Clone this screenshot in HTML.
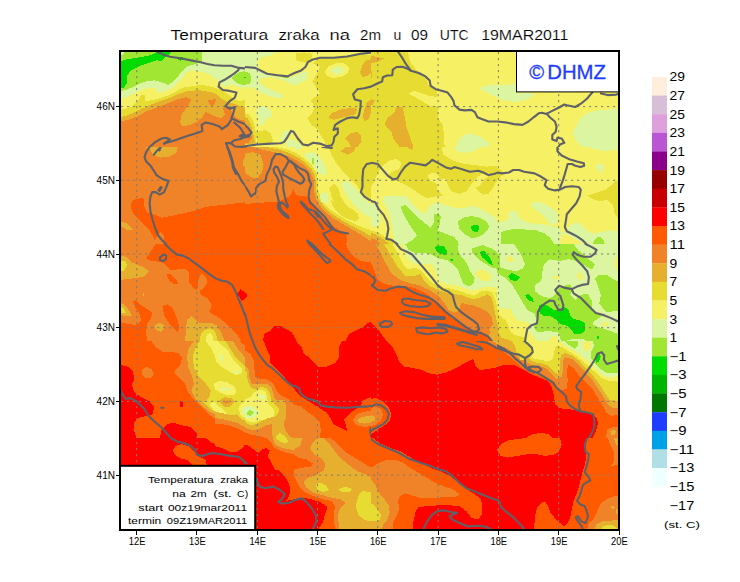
<!DOCTYPE html>
<html><head><meta charset="utf-8"><title>Temperatura zraka na 2m</title>
<style>
html,body{margin:0;padding:0;background:#fff;}
body{width:740px;height:582px;overflow:hidden;font-family:"Liberation Sans",sans-serif;}
svg{display:block;}
text{font-family:"Liberation Sans",sans-serif;fill:#000;}
.thin text,.thin{stroke:#fff;stroke-width:0.15px;}
.tk{font-size:10.1px;}
.cbl{font-size:12.3px;}
.ttl text{font-size:14.9px;}
.lg{font-size:9.9px;}
.grid line{stroke:#7d7d78;stroke-width:1;stroke-dasharray:2.2 3.8;}
.bord polyline{fill:none;stroke:#5f6068;stroke-width:2.1;stroke-linejoin:round;stroke-linecap:round;}
</style></head><body>
<svg width="740" height="582" viewBox="0 0 740 582">
<defs>
<clipPath id="c0"><rect x="119.0" y="50.0" width="126.0" height="97.0"/></clipPath>
<clipPath id="c1"><rect x="245.0" y="50.0" width="126.0" height="97.0"/></clipPath>
<clipPath id="c2"><rect x="371.0" y="50.0" width="126.0" height="97.0"/></clipPath>
<clipPath id="c3"><rect x="497.0" y="50.0" width="126.0" height="97.0"/></clipPath>
<clipPath id="c4"><rect x="119.0" y="147.0" width="126.0" height="97.0"/></clipPath>
<clipPath id="c5"><rect x="245.0" y="147.0" width="126.0" height="97.0"/></clipPath>
<clipPath id="c6"><rect x="371.0" y="147.0" width="126.0" height="97.0"/></clipPath>
<clipPath id="c7"><rect x="497.0" y="147.0" width="126.0" height="97.0"/></clipPath>
<clipPath id="c8"><rect x="119.0" y="244.0" width="126.0" height="97.0"/></clipPath>
<clipPath id="c9"><rect x="245.0" y="244.0" width="126.0" height="97.0"/></clipPath>
<clipPath id="c10"><rect x="371.0" y="244.0" width="126.0" height="97.0"/></clipPath>
<clipPath id="c11"><rect x="497.0" y="244.0" width="126.0" height="97.0"/></clipPath>
<clipPath id="c12"><rect x="119.0" y="341.0" width="126.0" height="97.0"/></clipPath>
<clipPath id="c13"><rect x="245.0" y="341.0" width="126.0" height="97.0"/></clipPath>
<clipPath id="c14"><rect x="371.0" y="341.0" width="126.0" height="97.0"/></clipPath>
<clipPath id="c15"><rect x="497.0" y="341.0" width="126.0" height="97.0"/></clipPath>
<clipPath id="c16"><rect x="119.0" y="438.0" width="126.0" height="97.0"/></clipPath>
<clipPath id="c17"><rect x="245.0" y="438.0" width="126.0" height="97.0"/></clipPath>
<clipPath id="c18"><rect x="371.0" y="438.0" width="126.0" height="97.0"/></clipPath>
<clipPath id="c19"><rect x="497.0" y="438.0" width="126.0" height="97.0"/></clipPath>
<clipPath id="c20"><rect x="119.0" y="50.0" width="80.0" height="60.0"/></clipPath>
<clipPath id="c21"><rect x="450.0" y="195.0" width="185.0" height="145.0"/></clipPath>
<clipPath id="c22"><rect x="215.0" y="400.0" width="80.0" height="70.0"/></clipPath>
<clipPath id="c23"><rect x="460.0" y="280.0" width="100.0" height="80.0"/></clipPath>
<clipPath id="c24"><rect x="215.0" y="50.0" width="126.0" height="97.0"/></clipPath>
<clipPath id="c25"><rect x="180.0" y="95.0" width="100.0" height="80.0"/></clipPath>
<clipPath id="c26"><rect x="290.0" y="200.0" width="100.0" height="80.0"/></clipPath>
<clipPath id="c27"><rect x="371.0" y="147.0" width="126.0" height="97.0"/></clipPath>
<clipPath id="c28"><rect x="255.0" y="150.0" width="100.0" height="80.0"/></clipPath>
</defs>
<rect x="0" y="0" width="740" height="582" fill="#fff"/>
<clipPath id="fr"><rect x="120" y="51" width="499" height="479"/></clipPath>
<g shape-rendering="crispEdges" clip-path="url(#fr)">
<g clip-path="url(#c0)">
<rect x="119.0" y="50.0" width="126.0" height="97.0" fill="#f08228"/>
<polygon points="119.0,121.9 129.2,119.5 137.7,116.1 146.2,111.6 156.5,107.6 168.4,103.1 178.6,99.0 186.3,97.3 191.4,99.4 187.4,107.0 181.7,114.4 180.0,122.4 182.7,126.6 189.7,124.9 196.5,121.9 201.6,117.8 205.8,112.1 213.5,115.6 221.2,118.4 224.9,114.4 223.2,108.7 226.3,105.3 230.5,107.9 233.1,114.7 238.2,119.0 245.0,120.7 245.0,50.0 119.0,50.0" fill="#e6af2d"/>
<polygon points="207.5,100.2 216.4,99.0 214.4,104.5 211.3,106.5" fill="#f08228"/>
<polygon points="119.0,117.3 126.7,115.6 134.3,112.3 142.0,108.7 150.5,104.8 159.9,101.1 170.1,97.7 178.6,93.9 187.1,91.2 199.0,90.2 209.2,91.9 216.9,93.9 221.2,98.5 228.0,101.9 236.5,104.8 245.0,107.0 245.0,50.0 119.0,50.0" fill="#e6dc32"/>
<polygon points="119.0,109.6 125.8,108.7 132.6,106.2 137.7,101.1 141.1,94.6 144.5,94.6 145.4,101.1 153.1,100.2 161.6,97.7 170.1,94.6 176.9,90.9 182.0,87.8 190.5,86.6 200.7,84.9 209.2,86.1 216.1,88.3 221.2,90.0 228.0,94.3 234.8,99.4 239.9,101.1 245.0,99.4 245.0,50.0 119.0,50.0" fill="#f5f064"/>
<polygon points="119.0,99.4 125.8,97.3 134.3,93.4 141.1,90.0 147.9,88.3 155.6,88.3 157.3,92.6 165.0,91.7 171.8,88.3 177.7,83.2 182.9,78.1 186.3,72.1 192.2,70.4 200.7,71.8 209.2,73.8 214.4,78.1 218.6,82.4 224.6,86.6 231.4,84.9 238.2,86.6 245.0,89.2 245.0,50.0 119.0,50.0" fill="#dcf5a0"/>
<polygon points="119.0,91.7 126.7,89.5 134.3,86.6 141.1,83.2 147.9,81.0 154.8,80.3 161.6,82.4 168.4,84.9 173.5,81.5 178.6,75.5 182.9,70.4 187.1,66.2 193.9,64.5 201.6,62.3 202.4,52.0 202.4,50.0 119.0,50.0" fill="#a0e632"/>
<polygon points="245.0,72.1 241.9,73.8 241.3,78.1 243.3,81.5 245.0,82.0" fill="#a0e632"/>
<polygon points="119.0,88.3 124.1,87.8 126.7,83.2 127.5,75.5 130.9,70.4 137.7,67.0 146.2,63.6 154.8,61.1 161.6,57.7 165.0,55.1 159.9,52.0 159.9,50.0 119.0,50.0" fill="#00dc00"/>
<polygon points="176.0,56.5 184.6,57.7 182.3,60.6 178.6,59.9" fill="#00dc00"/>
</g>
<g clip-path="url(#c1)">
<rect x="245.0" y="50.0" width="126.0" height="97.0" fill="#f5f064"/>
<polygon points="318.2,58.5 313.1,63.6 319.9,67.0 318.2,72.1 312.3,81.5 316.5,87.5 319.9,93.4 313.1,98.5 310.6,101.1 314.8,106.2 312.3,113.0 307.1,118.1 311.4,124.9 318.2,130.0 320.8,135.1 325.0,141.9 325.0,147.1 371.0,147.1 371.0,55.1 362.5,54.3 347.2,56.8 330.1,57.7" fill="#e6dc32"/>
<polygon points="296.1,53.4 303.7,52.4 311.4,53.4 313.1,60.2 310.6,62.8 306.3,62.8 301.2,61.9 296.1,60.2" fill="#e6dc32"/>
<polygon points="325.0,72.1 328.4,66.2 336.9,62.8 345.5,63.6 349.7,67.9 347.2,73.8 340.4,77.2 331.8,78.1 326.7,75.5" fill="#f5f064"/>
<polygon points="331.0,70.4 335.2,67.0 341.2,67.0 343.8,70.4 340.4,73.8 334.4,74.2" fill="#dcf5a0"/>
<polygon points="371.0,59.4 365.9,60.2 362.5,65.3 359.9,72.1 362.5,77.2 367.6,75.5 371.0,72.1" fill="#e6af2d"/>
<polygon points="328.4,118.1 331.8,113.0 340.4,109.6 350.6,107.9 357.4,108.7 355.7,113.9 347.2,116.4 340.4,118.1 333.5,119.8" fill="#e6af2d"/>
<polygon points="371.0,99.4 366.7,102.8 364.2,109.6 362.5,118.1 365.0,121.5 369.3,118.1 371.0,113.0" fill="#e6af2d"/>
<polygon points="345.5,138.5 350.6,133.4 356.5,131.7 360.8,135.1 361.6,141.9 357.4,147.1 351.4,147.1 348.9,142.8" fill="#e6af2d"/>
<polygon points="245.0,52.0 276.5,52.0 268.8,56.0 260.3,57.7 256.9,61.9 257.8,67.9 245.0,67.0" fill="#dcf5a0"/>
<polygon points="245.0,67.0 255.2,68.7 265.4,73.8 273.9,76.4 284.2,78.1 291.0,77.2 296.1,75.5 304.6,71.3 307.7,73.0 306.3,79.8 301.2,82.4 294.4,85.8 287.6,82.4 279.1,78.9 270.5,77.2 262.0,78.1 258.6,80.6 263.7,85.8 272.2,90.0 281.6,94.3 282.8,96.8 278.2,98.5 268.8,96.0 260.3,92.6 253.5,88.3 245.0,86.6" fill="#dcf5a0"/>
<polygon points="245.0,72.1 248.7,73.0 251.0,76.9 249.8,81.5 245.0,82.4" fill="#a0e632"/>
<polygon points="246.4,75.5 247.7,75.5 247.7,77.2 246.4,77.2" fill="#00dc00"/>
<polygon points="281.6,75.9 290.1,76.9 288.4,78.6 283.3,77.6" fill="#a0e632"/>
<polygon points="256.9,107.0 263.7,106.2 270.5,109.6 272.2,114.7 269.7,118.1 265.4,119.0 263.7,124.9 259.5,124.9 258.6,118.1 256.9,113.0" fill="#dcf5a0"/>
<polygon points="280.8,137.7 284.2,130.9 289.6,129.7 287.6,136.0 284.5,141.1 281.6,141.9" fill="#dcf5a0"/>
<polygon points="285.9,142.8 289.6,138.5 294.4,140.2 301.2,145.4 302.9,147.1 285.9,147.1" fill="#dcf5a0"/>
<polygon points="256.1,131.7 265.4,130.0 270.5,133.4 273.1,140.2 270.5,142.8 256.9,143.6" fill="#e6dc32"/>
<polygon points="245.0,113.0 249.3,114.7 253.5,121.5 255.6,131.7 256.6,143.6 245.0,145.4" fill="#e6dc32"/>
<polygon points="245.0,117.3 247.6,118.1 251.5,126.6 253.5,135.1 255.2,143.3 245.0,144.5" fill="#e6af2d"/>
<polygon points="245.0,124.9 248.4,126.6 251.0,131.7 251.8,138.5 248.4,142.8 245.0,142.8" fill="#f08228"/>
</g>
<g clip-path="url(#c2)">
<rect x="371.0" y="50.0" width="126.0" height="97.0" fill="#f5f064"/>
<polygon points="371.0,50.0 407.6,50.0 407.6,52.0 411.0,63.6 417.0,70.4 425.5,77.2 428.9,85.8 436.6,90.9 437.4,106.2 438.3,118.1 442.5,124.9 444.2,135.1 443.4,142.8 445.9,147.1 371.0,147.1" fill="#e6dc32"/>
<polygon points="408.5,93.4 414.4,90.9 422.1,93.4 429.7,96.0 437.1,96.8 437.1,106.2 430.6,106.2 422.1,101.1 414.4,96.8" fill="#f5f064"/>
<polygon points="371.0,56.0 377.8,56.8 383.8,58.5 377.8,61.9 371.0,63.6" fill="#e6af2d"/>
<polygon points="371.0,70.4 372.4,72.1 372.4,77.2 371.0,78.1" fill="#e6af2d"/>
<polygon points="371.0,99.4 375.3,100.2 372.7,104.5 371.0,105.3" fill="#e6af2d"/>
<polygon points="384.6,123.2 388.0,117.3 394.0,113.0 396.5,107.0 402.5,107.0 405.1,118.1 406.8,128.3 410.2,138.5 413.6,147.1 399.9,147.1 393.1,138.5 391.4,131.7 386.3,126.6" fill="#e6af2d"/>
<polygon points="479.1,88.3 488.5,84.9 497.0,84.9 497.0,97.7 490.2,94.3 483.4,90.9" fill="#dcf5a0"/>
<polygon points="456.1,147.1 458.7,140.2 462.9,135.1 469.8,133.4 480.0,136.8 489.3,142.8 487.6,147.1" fill="#dcf5a0"/>
</g>
<g clip-path="url(#c3)">
<rect x="497.0" y="50.0" width="126.0" height="97.0" fill="#f5f064"/>
<polygon points="497.0,84.9 507.2,84.9 515.7,83.2 516.6,92.6 531.1,92.6 534.5,95.1 527.6,99.4 517.4,101.9 507.2,101.1 497.0,97.7" fill="#dcf5a0"/>
<polygon points="572.8,131.7 577.0,124.9 580.4,118.1 587.2,113.0 597.5,110.4 607.7,109.6 618.2,108.7 623.0,108.7 623.0,147.1 582.1,147.1 577.0,141.9 573.6,136.8" fill="#dcf5a0"/>
</g>
<g clip-path="url(#c4)">
<rect x="119.0" y="147.0" width="126.0" height="97.0" fill="#f08228"/>
<polygon points="144.5,147.0 149.6,149.0 153.1,154.7 159.9,157.6 170.1,156.4 176.9,152.1 177.7,147.0" fill="#e6af2d"/>
<polygon points="245.0,202.3 236.5,203.2 224.6,204.9 214.4,205.7 204.1,207.4 193.9,210.9 183.7,213.4 175.2,215.1 166.7,216.8 161.6,217.7 155.6,214.8 147.1,212.6 144.2,206.6 144.5,200.1 142.0,198.1 136.0,198.9 131.8,201.5 130.6,206.6 132.6,212.6 137.7,218.5 144.5,224.5 149.6,230.4 153.1,236.4 154.8,240.3 157.3,235.5 160.7,232.1 163.6,235.5 165.0,244.1 245.0,244.1" fill="#ff5a00"/>
<polygon points="121.0,221.9 125.8,222.8 130.9,227.0 133.5,230.4 127.5,230.4 122.4,227.0 121.0,225.3" fill="#e6af2d"/>
<polygon points="245.0,157.2 243.0,160.6 243.3,165.7 245.0,166.6" fill="#e6af2d"/>
</g>
<g clip-path="url(#c5)">
<rect x="245.0" y="147.0" width="126.0" height="97.0" fill="#f08228"/>
<polygon points="245.0,204.0 255.2,203.2 267.1,202.3 279.1,201.5 289.3,196.4 291.8,193.0 293.5,188.7 295.2,193.8 299.5,196.4 306.3,196.4 310.6,199.8 313.1,205.7 318.2,212.6 324.2,218.5 330.1,223.6 336.9,228.7 345.5,233.8 347.2,239.8 346.3,244.1 245.0,244.1" fill="#ff5a00"/>
<polygon points="245.0,153.8 252.7,152.1 260.3,154.7 263.7,164.0 262.0,172.5 256.9,178.5 250.1,176.8 245.0,172.5" fill="#e6af2d"/>
<polygon points="253.5,147.0 263.7,150.1 273.9,152.1 284.2,154.7 292.7,158.1 301.2,163.2 308.0,169.1 312.3,175.9 314.0,183.6 314.0,191.3 315.7,198.1 319.9,205.7 325.9,212.6 333.5,218.5 342.1,223.6 352.3,229.6 362.5,235.5 371.0,241.5 371.0,147.0" fill="#e6af2d"/>
<polygon points="267.1,147.0 279.1,149.6 289.3,153.0 297.8,157.2 305.4,162.7 311.4,169.1 314.8,175.9 316.2,183.6 316.2,191.3 318.2,198.1 322.5,204.9 328.4,211.4 336.1,216.8 344.6,221.9 354.8,227.4 364.2,232.1 371.0,236.4 371.0,147.0" fill="#e6dc32"/>
<polygon points="275.6,147.0 287.6,149.6 296.1,153.0 304.6,158.9 311.4,164.9 316.5,172.5 318.2,181.1 318.2,190.4 320.8,198.1 325.0,204.9 331.0,210.0 338.6,215.1 347.2,220.2 357.4,225.3 371.0,230.4 371.0,147.0" fill="#f5f064"/>
<polygon points="328.4,147.0 331.8,155.5 336.9,164.0 343.8,172.5 350.6,179.4 357.4,186.2 364.2,194.7 371.0,199.8 371.0,147.0" fill="#e6dc32"/>
<polygon points="340.4,151.3 345.5,147.0 355.7,147.0 354.0,151.3 347.2,154.7" fill="#e6af2d"/>
<polygon points="341.2,183.6 347.2,181.1 354.0,187.0 360.8,195.5 367.6,202.3 371.0,204.0 371.0,217.7 364.2,214.3 355.7,206.6 348.9,198.1 343.8,191.3" fill="#dcf5a0"/>
<polygon points="329.3,187.9 333.5,183.6 338.3,187.9 340.7,196.4 345.8,204.9 354.0,211.7 359.4,218.5 354.8,221.9 345.8,215.4 337.3,206.9 332.2,198.1" fill="#e6dc32"/>
<polygon points="303.7,153.8 313.1,152.1 319.9,157.2 325.0,165.7 326.7,174.2 321.6,175.1 316.5,170.8 312.3,164.0 306.3,158.1" fill="#dcf5a0"/>
<polygon points="312.1,158.1 314.1,158.1 313.8,164.0 312.4,164.0" fill="#a0e632"/>
<polygon points="319.9,196.4 322.5,192.1 326.7,193.0 328.4,198.1 326.7,203.2 321.6,202.3" fill="#dcf5a0"/>
<polygon points="294.4,147.0 301.2,147.0 300.3,149.6 295.2,149.0" fill="#dcf5a0"/>
</g>
<g clip-path="url(#c6)">
<rect x="371.0" y="147.0" width="126.0" height="97.0" fill="#f5f064"/>
<polygon points="371.0,147.0 441.7,147.0 443.4,154.7 451.0,159.8 461.2,163.2 473.2,164.9 486.8,166.6 497.0,165.7 497.0,175.1 493.6,175.9 488.5,173.4 481.7,174.2 476.6,177.6 471.5,184.5 466.4,191.3 459.5,193.8 451.0,191.3 447.6,184.5 446.8,179.4 439.1,179.4 438.3,174.2 432.3,172.5 427.2,175.9 430.6,181.1 436.6,183.6 437.4,189.6 443.4,195.5 435.7,196.4 427.2,198.1 420.4,194.7 413.6,189.6 405.1,184.5 396.5,181.1 391.4,180.2 387.2,175.9 392.3,171.7 399.1,169.1 401.6,163.2 396.5,158.9 389.7,160.6 382.9,165.7 377.8,172.5 374.4,181.1 371.0,187.0" fill="#e6dc32"/>
<polygon points="474.9,187.9 480.0,185.3 484.2,179.4 490.2,175.1 497.0,174.2 497.0,181.1 492.7,187.9 488.5,193.8 483.4,194.7 478.3,191.3" fill="#e6dc32"/>
<polygon points="407.6,147.0 413.6,147.0 411.9,150.4" fill="#e6af2d"/>
<polygon points="382.1,200.6 384.6,196.4 393.1,195.5 405.1,195.5 411.9,203.2 418.7,210.0 425.5,214.3 429.7,205.7 436.6,202.3 444.2,204.9 452.7,207.4 462.9,208.3 473.2,205.7 481.7,209.1 490.2,214.3 497.0,218.5 497.0,244.1 397.4,244.1 394.0,238.9 392.3,228.7 390.6,218.5 388.0,210.0 384.6,204.0" fill="#dcf5a0"/>
<polygon points="371.0,202.3 375.3,204.9 378.7,211.7 381.2,220.2 377.8,227.0 371.0,225.3" fill="#dcf5a0"/>
<polygon points="400.8,206.6 405.1,204.9 410.2,210.0 417.0,216.8 425.5,223.6 430.6,227.9 434.0,221.9 434.3,214.3 438.3,213.1 440.8,216.8 440.0,223.6 437.4,230.4 445.9,233.8 454.4,237.2 457.8,241.5 457.8,244.1 405.9,244.1 412.7,239.8 417.0,235.5 411.9,228.7 406.8,220.2 402.5,211.7" fill="#a0e632"/>
<polygon points="457.8,221.9 462.9,217.7 471.5,216.0 480.0,217.7 486.8,221.9 489.3,227.0 485.1,233.0 478.3,237.2 471.5,238.1 463.8,233.8 459.5,228.7" fill="#a0e632"/>
<polygon points="470.6,227.0 474.0,224.5 478.3,224.5 479.1,228.7 477.4,231.8 472.3,231.3" fill="#00dc00"/>
<polygon points="371.0,230.4 377.8,232.1 385.5,237.2 393.1,242.4 394.8,244.1 371.0,244.1" fill="#e6dc32"/>
<polygon points="371.0,233.0 376.1,234.7 382.9,238.9 389.7,244.1 371.0,244.1" fill="#e6af2d"/>
<polygon points="371.0,238.1 376.1,239.8 381.2,244.1 371.0,244.1" fill="#f08228"/>
</g>
<g clip-path="url(#c7)">
<rect x="497.0" y="147.0" width="126.0" height="97.0" fill="#f5f064"/>
<polygon points="587.2,195.5 595.8,193.0 606.0,189.6 612.8,183.6 618.2,179.4 623.0,179.4 623.0,218.5 618.2,218.5 614.5,213.4 612.8,204.9 607.7,199.8 599.2,201.5 592.4,198.9" fill="#e6dc32"/>
<polygon points="497.0,168.3 501.3,170.0 503.8,174.2 498.7,178.5 497.0,178.5" fill="#e6dc32"/>
<polygon points="588.1,147.0 623.0,147.0 623.0,149.6 612.8,150.4 602.6,150.7 594.1,149.0" fill="#dcf5a0"/>
<polygon points="595.8,164.9 601.7,164.0 603.9,166.6 602.6,171.7 599.2,171.7 596.6,168.3" fill="#dcf5a0"/>
<polygon points="530.2,204.9 533.6,201.5 539.6,201.8 548.1,205.7 555.7,210.9 558.6,216.8 557.4,222.8 553.2,225.3 548.1,221.9 543.0,215.1 536.2,210.0" fill="#dcf5a0"/>
<polygon points="497.0,223.6 502.1,221.9 508.9,218.5 508.1,213.4 512.3,210.3 517.4,212.6 519.1,217.7 525.1,221.9 534.5,223.6 544.7,224.5 553.2,226.2 560.0,228.7 562.6,233.8 568.5,227.0 573.6,222.8 580.4,223.6 587.2,230.4 594.1,233.8 600.9,232.1 609.4,230.4 623.0,231.3 623.0,244.1 497.0,244.1" fill="#dcf5a0"/>
<polygon points="560.9,235.5 565.1,233.8 571.9,237.2 578.7,240.6 583.8,244.1 560.0,244.1" fill="#f5f064"/>
<polygon points="501.3,232.1 507.2,230.1 515.7,228.7 525.9,229.6 536.2,230.4 543.8,233.0 549.8,237.2 553.2,242.4 554.0,244.1 501.3,244.1" fill="#a0e632"/>
<polygon points="592.4,244.1 594.9,238.9 599.2,236.4 603.4,239.8 605.1,244.1" fill="#a0e632"/>
</g>
<g clip-path="url(#c8)">
<rect x="119.0" y="244.0" width="126.0" height="97.0" fill="#ff5a00"/>
<polygon points="119.0,244.0 155.6,244.0 146.2,258.5 150.5,261.0 161.6,261.9 166.7,266.1 170.1,269.5 176.9,269.5 184.6,268.7 188.8,272.1 189.2,282.3 193.9,288.3 197.3,290.0 198.7,278.1 201.6,272.9 205.8,277.2 207.5,282.3 203.6,287.9 199.9,290.8 200.7,295.1 207.5,298.5 211.8,305.3 209.2,312.1 216.9,316.4 224.6,322.3 231.4,328.3 237.3,335.1 241.6,341.1 119.0,341.1" fill="#f08228"/>
<polygon points="166.7,274.6 170.1,273.8 175.2,278.1 178.6,284.0 173.5,284.0 169.2,280.6" fill="#ff5a00"/>
<polygon points="162.4,306.1 167.5,304.4 171.8,307.0 175.2,313.8 177.7,320.6 179.4,327.4 177.7,332.5 173.5,328.3 168.4,322.3 164.1,315.5" fill="#ff5a00"/>
<polygon points="132.6,301.0 136.0,300.2 140.3,304.4 146.2,308.7 152.2,312.1 151.4,317.2 147.1,324.0 146.2,332.5 147.1,341.1 119.0,341.1 119.0,321.5 127.5,324.0 136.0,324.9 141.1,320.6 139.4,313.8 135.2,307.0" fill="#ff5a00"/>
<polygon points="119.0,255.1 125.8,256.8 132.6,262.7 142.8,267.0 149.6,271.2 144.5,276.4 136.0,278.1 127.5,278.9 119.0,280.6" fill="#e6af2d"/>
<polygon points="119.0,260.2 125.0,261.0 127.2,265.3 124.1,270.4 119.0,272.1" fill="#e6dc32"/>
<polygon points="119.0,301.0 125.8,306.1 130.1,312.1 131.8,315.5 127.5,316.4 119.0,314.7" fill="#e6af2d"/>
<polygon points="119.0,305.3 124.1,308.7 125.8,313.0 119.0,313.0" fill="#e6dc32"/>
<polygon points="154.8,324.9 159.9,322.7 163.6,324.9 164.1,329.1 160.7,331.7 155.6,330.0" fill="#e6af2d"/>
<polygon points="142.5,293.4 144.2,292.5 144.5,295.9 142.8,296.8" fill="#e6af2d"/>
<polygon points="185.4,341.1 185.7,329.1 187.1,319.8 191.4,316.4 195.6,320.6 200.7,323.2 210.9,322.7 216.9,325.7 221.2,332.5 224.6,341.1" fill="#e6af2d"/>
<polygon points="199.9,341.1 200.7,334.2 204.1,330.0 209.2,328.3 214.4,330.8 216.9,336.8 217.8,341.1" fill="#e6dc32"/>
<polygon points="205.8,341.1 206.7,335.1 210.1,332.5 212.6,335.9 213.0,341.1" fill="#f5f064"/>
<polygon points="237.3,293.4 240.7,289.1 245.0,292.5 245.0,298.5 241.6,301.0" fill="#ff0000"/>
</g>
<g clip-path="url(#c9)">
<rect x="245.0" y="244.0" width="126.0" height="97.0" fill="#ff5a00"/>
<polygon points="346.3,244.0 348.0,249.1 352.3,255.1 359.1,260.2 367.6,262.4 371.0,262.4 371.0,244.0" fill="#f08228"/>
<polygon points="262.9,341.1 264.6,333.4 270.5,330.8 273.1,326.6 279.1,325.4 285.0,328.3 291.8,332.5 295.2,337.6 296.1,341.1" fill="#ff0000"/>
<polygon points="345.5,341.1 348.9,334.2 355.7,330.8 362.5,327.4 367.6,323.2 371.0,321.5 371.0,341.1" fill="#ff0000"/>
<polygon points="245.0,292.5 247.6,295.1 245.0,298.5" fill="#ff0000"/>
</g>
<g clip-path="url(#c10)">
<rect x="371.0" y="244.0" width="126.0" height="97.0" fill="#ff5a00"/>
<polygon points="371.0,262.7 374.4,271.2 377.8,279.8 384.6,284.0 393.1,285.7 405.1,285.7 415.3,288.3 425.5,293.4 434.0,299.3 442.5,307.0 447.6,313.8 452.7,318.9 459.5,322.3 466.4,327.4 473.2,332.5 480.0,330.8 486.8,334.2 491.9,341.1 497.0,341.1 497.0,244.0 371.0,244.0" fill="#f08228"/>
<polygon points="375.3,244.0 380.4,252.5 385.5,262.7 390.6,272.1 398.2,278.9 408.5,282.8 420.4,285.7 429.7,290.0 438.3,295.9 444.2,302.7 448.5,309.6 454.4,313.0 459.5,309.6 460.9,303.6 466.4,301.9 476.6,304.4 486.8,307.0 493.6,309.6 497.0,312.1 497.0,244.0" fill="#e6af2d"/>
<polygon points="488.5,334.2 497.0,329.1 497.0,341.1 490.2,341.1" fill="#e6af2d"/>
<polygon points="383.8,244.0 388.0,250.8 393.1,259.3 398.2,267.8 405.1,275.5 413.6,276.4 420.4,273.8 423.8,280.6 430.6,286.6 439.1,290.0 445.9,292.5 452.7,293.4 459.5,295.1 466.4,296.8 476.6,295.1 486.8,293.4 493.6,296.8 497.0,300.2 497.0,244.0" fill="#e6dc32"/>
<polygon points="392.3,244.0 396.5,250.8 399.9,257.6 403.4,264.4 407.6,269.5 415.3,267.8 422.1,271.2 427.2,278.1 434.0,284.0 442.5,287.4 451.0,288.6 459.5,290.8 466.4,293.4 473.2,293.4 480.0,291.7 488.5,290.0 497.0,293.4 497.0,244.0" fill="#f5f064"/>
<polygon points="402.5,244.0 405.1,250.8 407.6,258.5 411.9,262.7 420.4,264.4 428.9,263.6 434.0,266.1 436.6,273.8 439.1,280.6 445.9,284.0 454.4,284.9 462.9,287.4 469.8,290.3 476.6,290.0 483.4,287.4 490.2,286.6 497.0,287.4 497.0,244.0" fill="#dcf5a0"/>
<polygon points="474.9,272.9 480.0,269.5 486.8,271.2 491.9,276.4 488.5,281.5 481.7,280.6 477.4,277.2" fill="#f5f064"/>
<polygon points="405.1,244.0 408.5,250.0 415.3,253.4 422.1,252.5 430.6,254.2 439.1,258.5 447.6,260.2 452.7,264.4 457.8,269.5 460.4,276.4 462.9,283.2 468.9,286.6 473.2,284.0 474.9,278.1 470.6,272.1 468.1,266.1 464.6,260.2 459.5,254.2 457.8,248.3 458.7,244.0" fill="#a0e632"/>
<polygon points="471.5,251.7 474.9,248.3 481.7,247.4 488.5,250.8 493.6,257.6 495.3,264.4 494.4,268.7 489.3,266.1 483.4,262.7 476.6,257.6" fill="#a0e632"/>
<polygon points="434.9,247.4 438.3,245.4 444.2,246.6 447.6,251.7 445.9,255.1 440.8,254.2 436.6,251.7" fill="#00dc00"/>
<polygon points="479.1,253.4 481.7,250.0 486.8,251.7 491.0,257.6 492.7,264.4 490.2,265.3 485.1,261.0 480.8,257.6" fill="#00dc00"/>
<polygon points="450.2,259.3 452.7,259.0 453.6,261.0 451.0,261.0" fill="#00dc00"/>
<polygon points="371.0,322.3 376.1,327.4 380.4,332.5 384.6,338.5 386.3,341.1 371.0,341.1" fill="#ff0000"/>
</g>
<g clip-path="url(#c11)">
<rect x="497.0" y="244.0" width="126.0" height="97.0" fill="#dcf5a0"/>
<polygon points="514.0,244.0 573.6,244.0 578.7,250.8 587.2,257.6 594.9,264.4 592.4,269.5 585.5,266.1 577.0,261.0 568.5,259.3 560.0,261.0 549.8,259.3 543.8,264.4 542.1,273.8 541.3,280.6 535.3,284.9 534.5,290.8 541.3,295.9 549.8,298.5 554.9,295.1 556.6,290.8 561.7,286.6 570.2,284.0 572.8,289.1 570.2,295.1 575.3,300.2 578.7,295.9 587.2,293.4 591.5,300.2 592.4,308.7 597.5,313.8 602.6,315.5 594.9,320.6 592.4,324.0 599.2,327.4 607.7,330.0 614.5,332.5 623.0,335.9 623.0,341.1 587.2,341.1 582.1,338.5 571.9,339.4 561.7,341.9 558.3,332.5 548.1,330.8 537.9,332.5 533.6,327.4 537.0,320.6 534.5,313.8 527.6,310.4 522.5,301.9 517.4,293.4 512.3,284.9 505.5,278.1 497.0,272.9 497.0,266.1 507.2,269.5 515.7,271.2 522.5,268.7 525.1,264.4 520.8,254.2" fill="#a0e632"/>
<polygon points="594.9,278.1 599.2,274.6 607.7,275.5 614.5,279.8 623.0,283.2 623.0,310.4 614.5,311.3 606.0,312.1 599.2,303.6 600.9,295.1 597.5,284.9" fill="#a0e632"/>
<polygon points="538.7,305.3 543.0,303.9 548.1,306.1 553.2,309.6 558.3,309.6 564.3,307.0 568.5,309.6 570.2,315.5 573.6,318.9 580.4,320.6 584.7,323.2 584.7,330.8 580.4,334.2 574.5,334.2 571.1,329.1 566.8,325.7 560.0,324.0 554.9,318.9 549.8,315.5 544.7,316.4 540.4,313.8 538.7,309.6" fill="#00dc00"/>
<polygon points="508.1,276.4 511.5,272.9 520.0,277.2 516.6,281.5 510.6,279.8" fill="#00dc00"/>
<polygon points="525.1,295.1 528.5,293.7 532.8,298.5 533.6,301.9 530.2,301.0 526.8,298.5" fill="#00dc00"/>
<polygon points="596.6,336.8 598.8,335.9 598.8,338.5 597.1,339.0" fill="#00dc00"/>
<polygon points="505.5,259.3 510.6,255.1 514.9,261.0 509.8,261.9" fill="#f5f064"/>
<polygon points="553.2,276.4 560.0,276.0 560.0,278.9 553.5,278.9" fill="#f5f064"/>
<polygon points="576.2,276.4 579.6,272.1 583.8,278.1 581.3,280.6" fill="#f5f064"/>
<polygon points="600.9,323.2 607.7,322.3 609.4,325.4 603.4,326.6" fill="#f5f064"/>
<polygon points="614.5,259.3 618.2,256.8 623.0,256.8 623.0,271.2 618.2,271.2 615.3,267.8" fill="#f5f064"/>
<polygon points="548.1,341.1 551.5,336.8 556.6,335.9 559.1,341.1" fill="#f5f064"/>
<polygon points="497.0,307.0 503.8,309.6 510.6,315.5 515.7,320.6 524.2,321.5 531.1,324.9 528.5,330.8 533.6,335.9 537.0,341.1 497.0,341.1" fill="#f5f064"/>
<polygon points="497.0,312.1 503.0,314.7 508.1,320.6 514.0,327.4 522.5,329.1 525.1,335.9 524.2,341.1 497.0,341.1" fill="#e6dc32"/>
<polygon points="497.0,316.4 501.3,318.9 504.7,324.9 508.9,332.5 514.0,336.8 515.7,341.1 497.0,341.1" fill="#e6af2d"/>
<polygon points="497.0,318.9 499.0,319.8 499.6,327.4 497.0,328.3" fill="#f08228"/>
</g>
<g clip-path="url(#c12)">
<rect x="119.0" y="341.0" width="126.0" height="97.0" fill="#ff5a00"/>
<polygon points="119.0,364.8 127.5,366.5 132.6,371.6 134.3,378.5 131.8,385.3 134.3,392.1 141.1,397.2 149.6,401.4 153.9,406.6 153.1,414.2 146.2,415.9 139.4,417.6 134.3,422.7 133.5,429.5 136.0,436.4 136.9,438.1 119.0,438.1" fill="#ff0000"/>
<polygon points="159.9,438.1 161.6,429.5 166.7,424.4 173.5,422.7 182.0,425.3 190.5,427.0 196.5,432.9 197.3,438.1" fill="#ff0000"/>
<polygon points="180.3,400.6 182.9,400.6 182.9,407.4 180.3,407.4" fill="#ff0000"/>
<polygon points="151.4,341.0 155.6,347.0 163.3,352.1 173.5,352.1 178.9,353.3 182.0,358.0 180.3,364.8 173.8,372.5 178.9,377.1 184.6,382.7 187.4,391.2 193.9,399.7 202.4,408.3 210.9,415.9 221.2,422.7 231.4,426.1 238.2,432.9 245.0,436.4 245.0,341.0" fill="#f08228"/>
<polygon points="142.0,369.9 146.2,366.9 151.4,369.1 153.9,373.4 151.4,377.6 145.4,378.5 142.5,375.1" fill="#f08228"/>
<polygon points="193.9,341.0 188.8,347.8 187.1,356.3 188.0,366.5 192.2,376.8 193.9,383.6 191.4,390.4 195.6,398.9 202.4,405.7 209.2,411.7 217.8,415.9 228.0,419.3 238.2,421.0 245.0,423.6 245.0,357.2 238.2,349.5 233.1,341.0" fill="#e6af2d"/>
<polygon points="199.9,341.0 194.8,349.5 192.6,358.0 194.3,368.2 199.0,376.8 205.8,383.6 210.9,390.4 209.2,397.2 204.1,402.3 209.2,408.3 217.8,413.4 228.0,416.8 238.2,418.5 245.0,420.2 245.0,366.5 241.6,363.1 234.8,356.3 229.7,347.8 225.4,341.0" fill="#e6dc32"/>
<polygon points="205.8,341.0 210.9,347.8 214.4,354.6 216.1,361.4 221.2,366.5 228.0,370.8 236.5,375.1 241.6,373.4 242.4,369.1 236.5,363.1 231.4,357.2 228.0,350.4 222.9,346.1 217.8,341.0" fill="#f5f064"/>
<polygon points="213.5,383.6 218.6,381.0 226.3,381.9 233.1,385.3 236.5,390.4 234.8,394.6 228.0,395.5 221.2,392.9 215.2,389.5" fill="#f5f064"/>
<polygon points="209.2,404.0 214.4,401.4 219.5,406.6 224.6,410.8 228.0,414.2 221.2,414.2 214.4,410.8" fill="#f5f064"/>
<polygon points="238.2,408.3 241.6,403.1 245.0,402.3 245.0,417.6 240.7,415.9" fill="#f5f064"/>
<polygon points="219.5,355.5 221.2,353.8 222.9,358.0 221.2,362.3 219.5,359.7" fill="#dcf5a0"/>
<polygon points="233.1,371.6 238.2,370.8 239.0,373.0 234.8,373.7" fill="#dcf5a0"/>
<polygon points="220.3,388.7 228.0,387.3 229.7,389.5 222.9,390.7" fill="#dcf5a0"/>
<polygon points="241.6,409.1 245.0,406.6 245.0,414.2 242.4,414.2" fill="#dcf5a0"/>
<polygon points="218.6,400.6 224.6,397.2 231.4,398.0 234.8,401.4 229.7,406.6 223.7,406.6" fill="#e6af2d"/>
<polygon points="223.7,400.9 228.0,400.3 228.8,402.6 225.4,403.7" fill="#f08228"/>
<polygon points="239.0,341.0 241.6,343.6 245.0,344.7 245.0,341.0" fill="#ff5a00"/>
</g>
<g clip-path="url(#c13)">
<rect x="245.0" y="341.0" width="126.0" height="97.0" fill="#ff5a00"/>
<polygon points="263.7,341.0 266.3,347.8 269.7,355.5 270.5,363.1 276.5,369.1 282.5,375.1 288.4,381.9 293.5,387.8 297.8,393.8 304.6,398.9 313.1,404.0 319.9,408.3 326.7,412.5 330.1,417.6 333.5,424.4 340.4,427.8 347.2,431.2 345.5,424.4 343.8,419.3 348.9,414.2 355.7,409.1 360.8,405.7 362.5,400.6 367.6,398.0 371.0,397.2 371.0,341.0 342.1,341.0 338.6,347.8 338.6,358.0 335.2,363.1 326.7,366.5 318.2,366.5 313.1,361.4 309.7,358.0 303.7,353.8 302.0,347.8 297.8,343.6 296.9,341.0" fill="#ff0000"/>
<polygon points="245.0,350.4 250.1,353.8 253.5,359.7 254.4,368.2 255.2,376.8 260.3,379.3 267.1,379.3 273.1,383.6 276.5,390.4 280.8,395.5 289.3,399.7 294.4,404.9 301.2,406.6 308.0,412.5 314.8,416.8 319.9,422.7 320.8,431.2 319.9,438.1 263.7,438.1 255.2,433.8 245.0,430.9" fill="#f08228"/>
<polygon points="353.1,419.3 357.4,414.2 364.2,411.7 371.0,410.8 371.0,426.1 364.2,427.0 357.4,425.3 354.0,422.7" fill="#f08228"/>
<polygon points="356.5,420.2 362.5,416.8 371.0,415.9 371.0,422.7 364.2,423.6 359.1,422.7" fill="#e6af2d"/>
<polygon points="245.0,365.7 248.4,369.1 249.3,376.8 251.8,383.6 258.6,384.4 266.3,383.6 270.5,386.1 273.1,392.1 274.8,398.9 279.9,403.1 285.0,409.1 285.9,417.6 283.3,424.4 279.1,429.5 273.9,431.2 265.4,429.5 256.9,427.8 250.1,429.5 245.0,429.5" fill="#e6af2d"/>
<polygon points="275.6,438.1 277.4,433.8 281.6,432.1 286.7,436.4 287.6,438.1" fill="#e6af2d"/>
<polygon points="278.2,438.1 279.9,434.6 283.3,435.5 285.0,438.1" fill="#e6dc32"/>
<polygon points="245.0,369.9 247.0,372.5 247.6,380.2 250.1,387.0 255.2,389.5 261.2,387.0 266.3,387.8 269.7,392.9 271.4,399.7 275.6,404.9 279.9,410.0 280.8,416.8 278.2,421.9 272.2,424.4 265.4,423.6 258.6,425.3 251.8,426.1 245.0,425.3" fill="#e6dc32"/>
<polygon points="245.0,399.7 250.1,397.2 254.4,392.1 260.3,389.5 265.4,391.2 267.1,397.2 268.0,403.1 272.2,407.4 274.8,412.5 273.1,417.6 267.1,419.3 260.3,420.2 253.5,422.7 247.6,421.0 245.0,419.3" fill="#f5f064"/>
<polygon points="245.0,406.6 250.1,405.7 255.2,408.3 258.6,412.5 256.1,416.8 250.1,418.5 245.0,417.6" fill="#dcf5a0"/>
<polygon points="258.6,395.5 264.6,394.6 265.4,398.9 260.3,399.7" fill="#dcf5a0"/>
<polygon points="246.7,412.5 250.1,410.0 254.4,412.5 251.0,415.9 247.6,415.1" fill="#a0e632"/>
</g>
<g clip-path="url(#c14)">
<rect x="371.0" y="341.0" width="126.0" height="97.0" fill="#ff0000"/>
<polygon points="386.3,341.0 393.1,347.8 396.5,354.6 399.1,361.4 404.2,366.5 413.6,368.2 422.1,369.9 428.9,373.4 437.4,374.7 445.9,372.5 456.1,368.2 464.6,363.1 473.2,358.9 475.7,366.5 480.0,369.9 488.5,369.1 497.0,367.4 497.0,341.0" fill="#ff5a00"/>
<polygon points="486.8,341.0 491.9,344.4 497.0,347.0 497.0,341.0" fill="#f08228"/>
<polygon points="492.7,341.0 497.0,344.1 497.0,341.0" fill="#e6af2d"/>
<polygon points="371.0,398.9 376.1,398.0 382.9,401.4 388.9,407.4 391.4,414.2 389.7,421.0 384.6,425.3 377.8,429.5 373.6,432.9 371.0,433.8" fill="#ff5a00"/>
<polygon points="371.0,408.3 376.1,406.6 381.2,409.1 382.9,414.2 381.2,420.2 376.1,424.4 371.0,426.1" fill="#f08228"/>
<polygon points="371.0,415.1 374.4,416.8 375.3,420.2 371.0,421.9" fill="#e6af2d"/>
</g>
<g clip-path="url(#c15)">
<rect x="497.0" y="341.0" width="126.0" height="97.0" fill="#ff5a00"/>
<polygon points="497.0,367.4 503.8,364.8 514.0,364.8 522.5,369.1 531.1,374.2 539.6,377.6 548.1,381.0 551.5,387.0 554.0,395.5 554.9,404.0 560.0,408.3 568.5,409.1 577.0,410.8 587.2,412.5 595.8,416.8 598.3,422.7 595.8,431.2 592.4,438.1 553.2,438.1 548.1,433.8 539.6,432.9 531.1,434.6 525.9,438.1 497.0,438.1" fill="#ff0000"/>
<polygon points="497.0,348.7 503.8,352.1 510.6,357.2 517.4,363.1 524.2,369.1 531.1,372.5 539.6,375.9 548.1,379.3 553.2,383.6 556.6,388.7 561.7,390.4 566.8,388.7 567.7,380.2 566.8,369.9 568.5,364.8 573.6,368.2 578.7,375.1 585.5,381.9 592.4,388.7 597.5,397.2 602.6,405.7 606.0,412.5 611.1,415.9 623.0,414.2 623.0,341.0 497.0,341.0" fill="#f08228"/>
<polygon points="606.0,438.1 606.8,431.2 610.2,427.8 616.2,427.0 623.0,427.8 623.0,438.1" fill="#f08228"/>
<polygon points="610.2,431.2 613.6,429.5 616.2,432.1 614.5,435.5 611.1,434.6" fill="#e6af2d"/>
<polygon points="497.0,344.4 503.8,347.0 512.3,351.2 519.1,356.3 525.9,362.3 533.6,365.7 541.3,366.5 547.2,369.1 551.5,374.2 556.6,379.3 561.7,376.8 563.4,369.9 562.6,361.4 565.1,357.2 571.9,358.9 578.7,364.8 585.5,372.5 592.4,380.2 597.5,387.8 602.6,395.5 607.7,404.0 612.8,408.3 623.0,406.6 623.0,341.0 497.0,341.0" fill="#e6af2d"/>
<polygon points="513.2,341.0 517.4,346.1 522.5,351.2 526.8,357.2 533.6,362.3 541.3,363.1 548.1,365.7 553.2,370.8 557.4,374.2 560.0,369.9 560.0,361.4 560.9,355.5 565.1,352.9 571.9,355.5 578.7,360.6 585.5,368.2 592.4,375.1 599.2,383.6 604.3,392.1 609.4,399.7 623.0,402.3 623.0,341.0" fill="#e6dc32"/>
<polygon points="525.1,341.0 531.1,346.1 533.6,352.9 531.1,358.0 539.6,359.7 548.1,361.4 553.2,358.9 554.0,351.2 555.7,346.1 561.7,347.0 568.5,351.2 575.3,355.5 582.1,360.6 588.9,366.5 595.8,372.5 602.6,378.5 609.4,381.0 623.0,381.9 623.0,341.0" fill="#f5f064"/>
<polygon points="560.0,341.0 565.1,345.3 571.9,349.5 577.0,352.1 582.1,356.3 588.9,361.4 595.8,368.2 602.6,375.1 609.4,377.6 623.0,375.1 623.0,341.0" fill="#dcf5a0"/>
<polygon points="564.3,341.0 569.4,345.3 574.5,348.7 577.9,345.3 578.4,341.0" fill="#a0e632"/>
<polygon points="582.1,344.4 584.7,341.0 589.8,341.0 591.5,346.1 588.9,351.2 584.7,351.2" fill="#f5f064"/>
<polygon points="592.4,341.0 623.0,341.0 623.0,371.6 612.8,373.4 606.0,372.5 599.2,368.2 594.1,363.1 590.6,357.2 591.5,351.2 594.1,346.1" fill="#a0e632"/>
<polygon points="595.8,355.5 599.2,353.8 600.9,356.3 599.2,361.4 596.6,363.1 595.4,359.7" fill="#00dc00"/>
</g>
<g clip-path="url(#c16)">
<rect x="119.0" y="438.0" width="126.0" height="97.0" fill="#ff0000"/>
<polygon points="172.6,449.9 176.0,445.7 182.0,444.0 188.8,446.5 193.9,451.6 199.0,456.7 205.8,460.1 206.7,464.7 192.2,464.7 187.1,460.1 180.3,458.4 175.2,455.0" fill="#ff5a00"/>
<polygon points="205.8,438.0 210.9,442.3 217.8,444.8 224.6,443.1 231.4,445.7 238.2,449.9 245.0,452.5 245.0,438.0" fill="#ff5a00"/>
<polygon points="228.0,438.0 231.4,441.4 238.2,442.3 245.0,443.1 245.0,438.0" fill="#f08228"/>
</g>
<g clip-path="url(#c17)">
<rect x="245.0" y="438.0" width="126.0" height="97.0" fill="#ff5a00"/>
<polygon points="245.0,445.7 251.8,448.2 258.6,453.3 262.0,449.9 266.3,448.2 269.7,451.6 268.8,460.1 273.9,466.9 280.8,472.1 286.7,478.9 290.1,487.4 289.3,495.9 285.9,501.0 294.4,499.3 302.9,497.6 311.4,499.3 319.9,501.9 327.6,507.0 325.0,514.6 322.5,523.1 318.2,529.1 318.2,535.1 245.0,535.1" fill="#ff0000"/>
<polygon points="267.1,438.0 273.9,443.1 282.5,448.2 291.0,451.6 297.8,457.6 306.3,459.3 313.1,463.5 310.6,466.9 301.2,467.8 294.4,469.5 294.4,477.2 297.8,484.0 302.9,490.8 313.1,495.9 323.3,499.3 331.8,501.0 335.2,506.1 333.5,514.6 334.4,523.1 335.2,535.1 371.0,535.1 371.0,467.8 364.2,463.5 355.7,458.4 347.2,453.3 340.4,446.5 335.2,441.4 330.1,438.0" fill="#f08228"/>
<polygon points="271.4,438.0 278.2,443.1 287.6,446.9 296.1,448.6 300.8,444.8 302.0,438.0" fill="#e6af2d"/>
<polygon points="276.5,438.0 280.8,441.7 285.9,443.1 288.4,439.7 287.6,438.0" fill="#e6dc32"/>
<polygon points="318.2,438.0 312.3,443.1 309.7,448.2 314.8,455.0 321.6,458.4 325.0,463.5 324.2,470.4 316.5,474.6 308.0,478.0 303.7,482.3 306.3,487.4 313.1,492.5 321.6,495.0 331.8,497.6 340.4,499.3 345.5,502.7 340.4,507.8 337.8,514.6 338.6,523.1 339.5,535.1 371.0,535.1 371.0,477.2 364.2,473.8 355.7,470.4 347.2,463.5 340.4,458.4 335.2,451.6 330.1,444.8 325.0,439.7 324.2,438.0" fill="#e6af2d"/>
<polygon points="315.7,484.8 319.9,482.6 325.9,485.7 329.3,489.9 323.3,492.1 317.4,489.9" fill="#e6dc32"/>
<polygon points="337.8,489.1 345.5,486.5 352.3,489.1 349.7,491.6 342.1,492.1" fill="#e6dc32"/>
<polygon points="355.7,506.1 358.2,495.9 362.5,490.8 371.0,492.5 371.0,521.4 364.2,519.7 358.2,514.6" fill="#e6dc32"/>
</g>
<g clip-path="url(#c18)">
<rect x="371.0" y="438.0" width="126.0" height="97.0" fill="#ff0000"/>
<polygon points="371.0,438.0 373.6,438.0 379.5,443.1 391.4,448.2 401.6,451.6 411.9,458.4 422.1,463.5 432.3,468.6 442.5,472.1 451.0,476.3 457.8,482.3 466.4,489.1 474.9,494.2 480.8,499.3 482.5,506.1 481.7,514.6 478.3,519.7 471.5,518.0 466.4,511.2 459.5,506.1 449.3,505.3 439.1,505.3 428.9,506.1 418.7,507.0 415.6,511.2 414.4,518.0 412.7,524.8 412.7,535.1 371.0,535.1" fill="#ff5a00"/>
<polygon points="371.0,467.8 377.8,463.5 386.3,460.1 394.8,459.8 403.4,462.7 410.2,467.8 418.7,472.9 427.2,478.0 435.7,483.1 444.2,486.5 452.7,489.1 459.5,494.2 456.1,496.7 447.6,496.7 439.1,497.6 430.6,498.4 422.1,498.4 413.6,495.9 405.1,493.3 399.9,495.9 398.2,501.0 399.1,509.5 396.5,516.3 393.1,523.1 392.3,535.1 371.0,535.1" fill="#f08228"/>
<polygon points="371.0,479.7 375.3,484.8 378.7,492.5 384.6,499.3 388.9,506.1 389.7,512.9 387.2,519.7 382.9,524.8 381.2,535.1 371.0,535.1" fill="#e6af2d"/>
<polygon points="371.0,503.6 374.4,505.3 378.7,511.2 381.2,515.5 379.5,519.7 375.3,521.4 371.0,521.4" fill="#e6dc32"/>
</g>
<g clip-path="url(#c19)">
<rect x="497.0" y="438.0" width="126.0" height="97.0" fill="#ff0000"/>
<polygon points="497.0,449.9 500.4,444.8 507.2,440.6 517.4,438.9 527.6,438.0 560.0,438.0 561.7,444.8 559.1,451.6 553.2,455.0 544.7,455.9 536.2,454.2 527.6,454.2 517.4,455.9 507.2,457.6 500.4,455.9" fill="#ff5a00"/>
<polygon points="587.2,438.0 585.5,446.5 586.4,456.7 584.7,465.2 582.1,473.8 579.6,484.0 577.0,492.5 573.6,501.0 571.9,509.5 570.2,518.0 567.7,523.1 564.3,526.5 560.0,523.1 554.9,518.0 550.6,512.9 548.1,506.1 545.5,501.9 541.3,502.7 537.0,507.8 535.3,514.6 534.5,523.1 534.1,535.1 623.0,535.1 623.0,438.0" fill="#ff5a00"/>
<polygon points="623.0,441.4 614.5,438.0 607.7,438.0 610.2,444.8 614.5,453.3 613.6,461.8 611.1,466.1 616.2,465.2 623.0,463.5" fill="#f08228"/>
<polygon points="613.6,438.0 616.2,444.8 623.0,448.2 623.0,438.0" fill="#e6af2d"/>
<polygon points="585.5,535.1 588.9,523.1 594.1,518.0 597.5,511.2 600.0,504.4 606.0,499.3 612.8,496.7 623.0,495.0 623.0,535.1" fill="#f08228"/>
<polygon points="594.1,535.1 595.8,524.8 602.6,521.4 611.1,520.6 623.0,519.7 623.0,535.1" fill="#e6af2d"/>
<polygon points="600.9,535.1 602.6,526.5 607.7,524.8 614.5,525.7 617.0,529.1 617.9,535.1" fill="#e6dc32"/>
<polygon points="610.2,507.0 612.8,505.8 614.8,507.5 612.8,509.2" fill="#e6af2d"/>
<polygon points="616.2,509.5 623.0,507.8 623.0,514.6 616.5,513.8" fill="#e6af2d"/>
</g>
<g clip-path="url(#c20)">
<polygon points="121.2,52.2 156.8,52.2 151.4,54.9 143.9,56.5 135.2,58.1 126.6,59.2 121.7,60.8 119.0,60.8 119.0,50.0" fill="#a0e632"/>
<polygon points="155.8,52.2 170.9,52.2 166.0,57.0 161.7,60.8 155.8,60.3" fill="#00dc00"/>
<polygon points="119.0,50.0 124.4,50.0 124.4,52.7 122.8,54.9 119.0,55.4" fill="#dcf5a0"/>
<polygon points="177.4,57.8 181.2,57.6 183.9,59.9 180.6,60.6" fill="#00dc00"/>
</g>
<g clip-path="url(#c21)">
<polygon points="471.2,248.8 482.5,245.0 492.5,248.8 500.0,255.0 500.0,270.0 492.5,267.5 480.0,257.5 473.8,253.8" fill="#a0e632"/>
<polygon points="479.5,252.0 483.8,250.5 490.0,257.5 493.0,265.0 488.8,263.8 482.5,257.5" fill="#00dc00"/>
</g>
<g clip-path="url(#c22)">
<polygon points="215.0,423.5 222.2,424.1 230.6,425.9 237.9,428.3 245.1,432.5 252.3,434.9 259.5,436.1 266.7,438.5 271.5,443.3 273.9,447.5 280.0,450.5 287.2,452.9 295.0,454.7 295.0,470.0 215.0,470.0" fill="#ff5a00"/>
<polygon points="215.0,446.3 222.2,448.1 229.4,451.7 236.7,451.7 242.7,448.1 245.1,444.5 249.9,446.3 254.7,450.5 258.3,452.9 261.9,449.3 266.7,448.1 269.7,450.5 267.9,456.5 271.5,462.6 275.2,470.0 215.0,470.0" fill="#ff0000"/>
<polygon points="215.0,418.0 222.2,419.2 230.6,421.1 237.9,422.9 242.7,425.9 247.5,428.9 254.7,430.1 260.7,428.3 266.7,425.3 271.5,424.1 272.1,430.1 272.7,438.5 275.2,444.5 282.4,448.1 289.6,449.3 295.0,450.5 295.0,454.7 287.2,452.9 280.0,450.5 273.9,447.5 271.5,443.3 266.7,438.5 259.5,436.1 252.3,434.9 245.1,432.5 237.9,428.3 230.6,425.9 222.2,424.1 215.0,423.5" fill="#f08228"/>
<polygon points="215.0,411.4 222.2,413.2 230.6,415.0 236.7,414.4 239.1,416.8 243.9,421.1 249.9,425.3 255.9,424.1 261.9,421.1 267.9,418.0 275.2,416.8 278.8,412.0 280.6,407.2 277.6,403.6 273.9,400.0 284.8,400.0 286.0,407.2 285.4,415.6 283.6,424.1 286.0,431.3 289.6,436.1 295.0,439.7 295.0,450.5 289.6,449.3 282.4,448.1 275.2,444.5 272.7,438.5 272.1,430.1 271.5,424.1 266.7,425.3 260.7,428.3 254.7,430.1 247.5,428.9 242.7,425.9 237.9,422.9 230.6,421.1 222.2,419.2 215.0,418.0" fill="#e6af2d"/>
<polygon points="275.8,436.1 280.0,433.1 284.8,436.1 288.4,440.9 286.0,443.3 280.0,441.5 276.4,439.1" fill="#e6dc32"/>
</g>
<g clip-path="url(#c23)">
<polygon points="460.0,287.6 466.9,290.3 473.7,292.4 480.6,288.2 486.1,286.9 493.0,290.3 497.1,297.9 499.1,307.5 505.3,309.5 510.8,308.2 513.6,315.7 517.7,320.5 524.6,321.2 529.4,324.0 525.7,337.7 520.4,336.3 514.9,334.9 510.8,332.2 508.1,325.3 505.3,319.8 501.2,317.1 498.5,314.3 496.8,304.7 495.0,297.9 492.3,292.4 486.8,290.3 480.6,291.7 473.7,295.8 466.9,293.7 460.0,291.0" fill="#f5f064"/>
<polygon points="460.0,291.0 466.9,293.7 473.7,295.8 480.6,291.7 486.8,290.3 492.3,292.4 495.0,297.9 496.8,304.7 498.5,314.3 501.2,317.1 505.3,319.8 508.1,325.3 510.8,332.2 514.9,334.9 520.4,336.3 525.7,337.7 527.3,343.9 531.4,347.3 532.8,352.8 528.7,357.6 524.6,359.9 520.4,359.9 520.4,355.3 516.3,351.4 514.9,345.9 512.2,341.8 506.7,339.1 501.2,337.7 498.5,332.2 497.8,325.3 496.4,319.8 494.6,310.9 493.2,302.7 490.9,296.5 487.5,294.4 480.6,297.2 473.7,299.2 466.9,297.2 460.0,294.4" fill="#e6dc32"/>
<polygon points="460.0,294.4 466.9,297.2 473.7,299.2 480.6,297.2 487.5,294.4 490.9,296.5 493.2,302.7 494.6,310.9 496.4,319.8 497.8,325.3 498.5,332.2 501.2,337.7 506.7,339.1 512.2,341.8 514.9,345.9 516.3,351.4 520.4,355.3 520.4,359.9 517.7,357.2 512.2,352.8 506.7,347.3 501.2,344.6 495.7,340.4 491.6,334.9 489.5,329.5 493.0,324.0 491.6,317.1 487.5,311.6 480.6,308.2 472.4,305.4 465.5,304.0 460.0,302.0" fill="#e6af2d"/>
</g>
<g clip-path="url(#c24)">
<polygon points="231.2,78.1 237.1,73.0 243.9,71.3 249.9,73.0 251.6,78.9 249.9,84.1 242.2,84.9 235.4,82.4" fill="#a0e632"/>
<polygon points="243.6,76.9 246.0,76.9 246.0,78.3 243.6,78.3" fill="#00dc00"/>
</g>
<g clip-path="url(#c25)">
</g>
<g clip-path="url(#c26)">
<polygon points="331.2,200.0 336.7,202.7 344.9,205.5 351.8,208.9 358.0,213.7 358.7,218.5 354.6,220.6 347.7,219.2 340.8,215.1 335.3,209.6 331.9,204.1" fill="#e6dc32"/>
</g>
<g clip-path="url(#c27)">
<polygon points="453.6,147.0 480.0,147.0 473.2,151.3 462.9,153.0 456.1,150.4" fill="#dcf5a0"/>
</g>
<g clip-path="url(#c28)">
</g>
</g>
<g class="grid">
<line x1="136.7" y1="52" x2="136.7" y2="529"/>
<line x1="197.0" y1="52" x2="197.0" y2="529"/>
<line x1="257.3" y1="52" x2="257.3" y2="529"/>
<line x1="317.5" y1="52" x2="317.5" y2="529"/>
<line x1="377.8" y1="52" x2="377.8" y2="529"/>
<line x1="438.1" y1="52" x2="438.1" y2="529"/>
<line x1="498.4" y1="52" x2="498.4" y2="529"/>
<line x1="558.7" y1="52" x2="558.7" y2="529"/>
<line x1="121" y1="106.6" x2="618" y2="106.6"/>
<line x1="121" y1="180.3" x2="618" y2="180.3"/>
<line x1="121" y1="254.0" x2="618" y2="254.0"/>
<line x1="121" y1="327.7" x2="618" y2="327.7"/>
<line x1="121" y1="401.4" x2="618" y2="401.4"/>
<line x1="121" y1="475.1" x2="618" y2="475.1"/>
</g>
<g class="bord" clip-path="url(#fr)">
<g clip-path="url(#c0)">
<polyline points="157.3,52.0 163.6,54.8 170.1,56.8 176.9,57.7 183.7,58.9 192.2,60.6 200.7,62.3 207.5,64.0 214.4,65.3 222.9,65.8 231.4,65.7 239.0,67.9 245.0,68.4"/>
<polyline points="239.0,68.4 238.2,70.4 231.4,75.5 224.6,79.8 219.5,82.4 218.6,86.6 222.9,90.0 229.7,90.9 236.5,92.6 234.8,97.7 229.7,101.1 225.4,106.2 229.7,108.7 234.8,107.0 233.4,113.0 231.4,118.1 238.2,121.5 245.0,124.1"/>
<polyline points="149.6,147.1 155.6,141.9 161.6,138.5 165.8,137.7 170.1,139.4 164.1,143.6"/>
<polyline points="164.1,143.6 175.2,140.2 187.1,136.0 195.6,133.4 202.4,130.9 201.6,124.9 205.8,122.4 212.6,124.1 219.5,126.6 222.0,129.2 228.0,124.9 231.7,119.0"/>
</g>
<g clip-path="url(#c1)">
<polyline points="245.0,67.0 255.2,67.9 262.0,71.3 267.1,73.8 277.4,75.2 287.6,76.4 294.4,73.0 301.2,70.4 305.4,67.0 308.0,61.9 313.1,59.4 319.9,57.7 333.5,57.7 347.2,56.5 360.8,53.7 371.0,52.6"/>
<polyline points="371.0,86.6 364.2,88.3 357.4,89.2 353.1,94.3 354.8,99.4 360.8,101.1 360.4,107.9 359.1,114.7 357.4,118.1 352.3,117.3 347.2,118.1 340.4,121.5 335.2,124.9 333.5,130.0 337.8,128.3 337.8,133.4 334.4,136.8 333.5,141.9 331.8,145.4 326.7,146.2 319.9,143.6 313.1,142.8 308.0,145.4 302.9,144.5 297.8,138.5 293.5,131.7 291.0,130.9 287.6,136.8 284.2,141.9 280.8,143.3 270.5,143.6 256.9,144.5 245.0,146.2"/>
<polyline points="245.0,124.9 248.4,128.3 251.5,132.6 248.4,136.8 245.0,137.2"/>
</g>
<g clip-path="url(#c2)">
<polyline points="371.0,86.6 377.8,83.2 382.1,81.5 382.9,77.2 387.2,75.5 392.3,75.2 392.8,69.6 396.5,67.0 402.5,66.7 407.6,68.7 410.2,70.4 418.7,73.0 425.5,76.4 429.7,80.6 430.6,85.8 435.7,89.2 442.5,90.9 447.6,92.6 451.0,96.8 453.6,101.1 454.4,105.3 459.5,109.6 464.6,110.4 471.5,109.9 474.9,112.1 477.4,117.3 481.7,119.0 488.5,121.5 497.0,121.5"/>
<polyline points="398.2,52.0 401.6,56.8 405.1,62.8 409.3,68.7 410.5,70.4"/>
</g>
<g clip-path="url(#c3)">
<polyline points="497.0,121.5 505.5,122.4 514.0,124.1 522.5,124.9 528.5,121.5 533.6,117.3 538.7,113.3 542.1,112.7 546.4,113.9 553.2,110.4 560.0,107.0 564.3,104.5 566.8,105.3 575.3,107.0 582.1,102.8 587.2,98.5 590.6,94.3 592.4,92.6"/>
<polyline points="600.9,93.4 607.7,95.1 616.2,94.6 618.2,93.9"/>
<polyline points="546.7,113.9 549.8,117.3 554.9,121.5 556.6,126.6 555.7,131.7 552.3,135.1 552.3,139.4 556.6,141.1 557.4,137.7 561.7,138.5 564.3,142.8 560.0,144.5 558.3,147.1"/>
</g>
<g clip-path="url(#c4)">
<polyline points="149.6,147.0 146.2,152.1 144.5,157.2 146.2,161.5 150.5,165.7 153.9,170.8 156.5,175.1 161.6,178.5 168.4,181.1 166.7,186.2 164.1,192.1 159.9,194.7 155.6,192.1 152.2,192.1 150.5,196.4 149.6,203.2 150.5,211.7 152.2,218.5 154.8,227.0 158.2,235.5 162.4,240.6 165.8,244.1"/>
<polyline points="158.5,190.4 160.7,187.0 161.6,187.5 159.5,190.9"/>
<polyline points="153.9,154.7 157.3,150.4 160.7,147.0 159.5,150.4"/>
<polyline points="227.1,147.0 229.7,152.1 232.2,159.8 233.9,167.4 238.2,174.2 241.6,181.1 245.0,185.3"/>
</g>
<g clip-path="url(#c5)">
<polyline points="322.5,147.0 331.8,147.9"/>
<polyline points="245.0,186.2 248.4,191.3 251.0,196.4 255.2,193.0"/>
<polyline points="331.8,227.0 335.2,230.4 340.4,232.1 348.0,233.5"/>
<polyline points="331.8,229.6 326.7,232.1 323.3,233.8 326.7,238.9 330.1,243.2"/>
<polyline points="371.0,163.2 366.7,164.0 363.3,169.1 362.5,177.6 362.5,187.0 360.8,192.1 364.2,196.4 369.3,199.8 371.0,200.1"/>
</g>
<g clip-path="url(#c6)">
<polyline points="371.0,162.7 377.8,164.0 382.1,169.1 388.0,175.9 393.1,179.4 397.4,178.5 400.8,172.5 405.1,166.6 410.2,162.7 417.8,164.0 425.5,165.4 429.7,162.3 432.3,159.8 438.3,163.2 445.9,167.4 451.0,168.8 454.4,167.1 461.2,169.1 469.8,171.7 478.3,170.8 483.4,172.5 488.5,175.1 493.6,173.9 497.0,172.9"/>
<polyline points="371.0,201.1 375.3,202.3 378.7,209.1 383.8,215.1 387.2,221.9 388.4,228.7 387.2,235.5 386.3,238.9 391.4,239.8 397.4,244.1"/>
</g>
<g clip-path="url(#c7)">
<polyline points="497.0,172.5 502.1,173.4 508.9,172.5 513.2,170.0 519.1,170.0 524.2,171.7 534.5,173.4 541.3,176.8 546.4,180.2 544.7,185.3 548.1,188.7 554.9,190.4 560.0,189.6 565.1,187.0 571.9,186.2 578.7,187.0 580.8,189.6 579.6,196.4 576.2,203.2 571.9,208.3 566.8,214.3 566.0,220.2 564.8,227.0 566.8,231.3 571.9,233.8 577.0,236.4 582.1,239.8 586.4,244.1"/>
<polyline points="557.4,147.0 557.4,151.3 561.7,155.5 568.5,158.9 577.0,161.5 583.8,163.2 584.2,165.7 580.4,167.1 575.3,165.7 571.9,164.0 567.7,164.0 566.0,170.0 564.3,175.9 562.6,181.1 560.0,187.9"/>
</g>
<g clip-path="url(#c8)">
<polyline points="165.0,244.0 170.1,249.1 176.9,254.6 182.9,255.6 188.8,258.5 195.6,263.6 202.4,268.7 209.2,273.8 215.2,278.1 221.2,280.6 227.1,281.5 232.2,284.9 235.6,291.7 239.0,300.2 242.4,308.7 245.0,315.5"/>
<polyline points="159.9,257.6 163.3,254.6 166.3,255.6 165.8,259.3 162.9,261.0 160.2,260.2 159.9,257.6"/>
</g>
<g clip-path="url(#c9)">
<polyline points="329.3,244.0 336.9,250.8 345.5,259.3 352.3,264.4 357.4,269.5 364.2,271.2 371.0,275.5"/>
<polyline points="245.0,313.8 247.6,324.0 250.1,334.2 252.7,341.1"/>
</g>
<g clip-path="url(#c10)">
<polyline points="396.5,244.0 400.8,249.1 406.8,251.7 411.9,254.2 417.0,260.2 422.1,266.1 427.2,272.1 432.3,278.1 437.4,284.9 442.5,289.1 448.5,291.7 452.7,295.1 454.4,301.9 456.1,307.0 461.2,312.1 468.1,317.2 473.2,320.6 477.4,324.0 479.1,329.1 476.6,331.7 471.5,330.8"/>
<polyline points="371.0,284.9 377.8,290.0 385.5,290.8 391.4,288.3 398.2,286.6 405.1,287.4 411.9,291.7 420.4,295.1 428.9,297.6 435.7,301.9 440.8,307.0 445.9,312.1 452.7,317.2 459.5,322.3 466.4,327.4 473.2,331.7 481.7,333.4 488.5,336.8 491.9,341.1"/>
<polyline points="371.0,276.4 373.6,277.2 375.3,280.6 373.6,284.0 371.0,285.7"/>
<polyline points="402.5,299.3 407.6,298.5 417.0,300.2 425.5,301.0 430.6,303.6 428.0,306.1 420.4,307.0 410.2,306.1 404.2,304.4 402.0,301.9 402.5,299.3"/>
<polyline points="399.9,313.0 405.1,311.3 413.6,312.1 422.1,314.7 430.6,316.4 444.2,317.2 444.2,318.9 435.7,318.9 425.5,318.9 417.0,318.1 408.5,316.4 402.5,314.7 399.9,313.0"/>
<polyline points="439.1,317.6 444.6,317.6 444.6,318.6 439.1,318.6"/>
<polyline points="380.4,323.2 384.6,321.0 390.6,321.5 392.3,324.0 388.9,326.6 382.9,327.1 379.9,325.4 380.4,323.2"/>
<polyline points="416.1,328.3 422.1,327.4 430.6,328.3 439.1,327.4 445.9,329.1 447.6,331.7 442.5,333.4 435.7,332.5 428.9,334.2 422.1,333.4 417.0,331.7 416.1,328.3"/>
<polyline points="437.4,324.0 445.9,324.9 454.4,327.4 462.9,330.0 471.5,332.5 476.6,335.1 471.5,333.4 462.9,330.8 454.4,328.3 445.9,326.1 437.7,325.0"/>
</g>
<g clip-path="url(#c11)">
<polyline points="585.5,244.0 592.4,247.4 596.6,250.0 594.9,253.4 590.6,256.8 583.8,256.8 577.9,255.1 573.6,252.2 572.8,255.1 577.0,260.2 582.1,265.3 587.2,271.2 588.9,277.2 588.1,284.0 582.1,284.9 577.0,286.6 571.9,289.1 565.1,287.9 559.1,285.7 555.2,290.0 557.4,293.4 560.3,295.9 561.7,300.2 563.4,305.3 562.6,309.6 558.3,309.6 555.7,305.3 554.0,301.0 549.8,300.5 544.7,303.6 540.4,307.3 537.9,312.1 537.5,318.9 537.0,323.2 531.1,325.4 527.3,329.1 525.9,335.9 525.1,341.1"/>
<polyline points="571.9,289.6 573.6,293.4 580.4,297.6 585.5,302.7 590.6,307.9 595.8,313.0 602.6,314.7 611.1,318.1 618.2,321.5 623.0,323.2"/>
</g>
<g clip-path="url(#c12)">
<polyline points="119.0,387.8 121.0,391.2 123.3,395.5 125.8,398.9 130.1,398.0 135.2,400.6 140.3,404.9 144.5,409.1 147.9,415.1 153.1,420.2 159.9,426.1 165.0,431.2 170.1,437.2 170.9,438.1"/>
<polyline points="161.2,407.7 163.6,407.7"/>
</g>
<g clip-path="url(#c13)">
<polyline points="252.7,341.0 255.2,347.8 260.3,356.3 267.1,364.8 272.2,368.2 279.1,374.2 285.9,381.0 291.8,385.6 296.1,386.6 299.5,388.7 299.8,392.1 302.9,395.5 308.0,398.9 314.8,400.3 318.2,402.6 320.8,405.4 326.7,406.6 335.2,407.4 347.2,407.7 360.8,406.6 367.6,406.6 371.0,405.7"/>
<polyline points="371.0,427.8 370.1,431.2 371.0,436.4"/>
</g>
<g clip-path="url(#c14)">
<polyline points="371.0,406.6 376.1,404.3 381.2,405.4 386.3,409.1 388.9,414.2 387.2,420.2 382.9,424.4 377.8,427.0 372.7,429.5 371.0,431.2"/>
<polyline points="457.0,343.6 462.9,341.9 471.5,344.4 480.0,347.0 482.5,349.2 476.6,349.2 468.1,347.0 459.5,345.3 457.0,343.6"/>
<polyline points="476.6,341.0 486.8,342.7 493.6,346.1 497.0,348.7"/>
</g>
<g clip-path="url(#c15)">
<polyline points="497.0,345.3 503.8,348.7 510.6,353.8 515.7,358.9 520.8,363.1 525.9,368.2 529.4,370.8 534.5,371.6 541.3,375.1 548.1,379.3 553.2,382.7 556.6,387.8 561.7,392.1 566.0,396.3 566.8,401.4 570.2,405.7 575.3,409.1 580.4,411.2 587.2,412.5 593.2,414.2 594.4,421.0 594.1,427.8 591.5,433.8 588.9,438.1"/>
<polyline points="528.5,367.4 532.8,366.5 538.7,366.9 541.3,369.6 538.7,372.0 533.6,372.5 528.5,367.4"/>
<polyline points="524.2,341.0 528.5,344.4 531.9,347.8 532.8,352.1 529.4,355.5 525.1,358.0 525.1,364.8 526.8,368.2"/>
<polyline points="497.0,347.8 505.5,351.2 514.0,353.8 519.1,354.6 524.2,357.7"/>
<polyline points="580.4,411.2 578.7,405.7 580.4,398.9 581.3,392.1 577.0,388.7 576.2,386.1 580.4,380.2 585.5,373.4 591.5,364.8 595.8,358.0 597.5,353.8 601.7,352.1 604.3,355.5 603.9,359.7 606.8,364.0 612.8,362.3 618.2,360.6 623.0,359.7"/>
<polyline points="617.0,346.1 618.2,349.5"/>
</g>
<g clip-path="url(#c16)">
<polyline points="170.9,438.0 176.9,441.4 183.7,443.1 190.5,445.7 194.8,449.9 197.3,455.0 202.4,455.9 207.5,454.2 212.6,453.0 221.2,454.2 229.7,455.9 238.2,456.7 243.3,460.1 245.0,463.5"/>
</g>
<g clip-path="url(#c17)">
<polyline points="255.6,478.0 259.5,486.5 265.4,488.2 273.1,486.5 279.9,489.9 285.0,494.2 281.6,499.3 278.2,501.9 281.6,503.6 289.3,502.7 296.1,499.6 302.0,498.4 306.3,501.9 311.4,507.8 315.7,514.6 316.5,521.4 314.0,526.5 312.3,529.9"/>
<polyline points="245.0,461.8 246.7,463.5"/>
</g>
<g clip-path="url(#c18)">
<polyline points="371.0,438.9 377.8,444.0 388.0,448.2 398.2,452.5 408.5,458.4 420.4,462.7 430.6,466.1 439.1,469.5 445.9,471.2 452.7,476.3 459.5,483.1 466.4,488.2 474.9,491.6 483.4,495.0 491.9,498.4 497.0,500.1"/>
<polyline points="422.9,529.9 427.2,521.4 432.3,514.6 437.4,511.2 444.2,510.4 451.0,512.1 457.0,512.9 452.7,514.6 449.7,516.7 452.7,519.7 459.5,523.1 468.1,526.5 476.6,525.7 485.1,526.5 491.9,529.9"/>
</g>
<g clip-path="url(#c19)">
<polyline points="587.2,438.0 584.7,444.8 585.5,451.6 588.9,454.2 588.1,460.1 586.4,466.9 584.7,472.1 588.1,476.3 590.3,480.6 586.4,482.6 583.0,484.8 581.3,490.8 579.6,495.9 577.0,501.0 580.4,504.4 584.7,506.1 586.4,510.4 588.1,516.3 585.5,523.1 581.3,521.4 577.9,516.3 575.7,517.2 577.9,521.4 581.3,525.7 583.0,529.9"/>
<polyline points="497.0,499.3 499.6,501.9 500.4,506.1 505.5,511.2 512.3,516.3 517.4,521.4 521.7,525.7 524.2,529.9"/>
</g>
<g clip-path="url(#c25)">
<polyline points="249.4,134.8 244.6,136.2 241.8,134.8 239.8,136.2 243.9,137.6 240.4,139.0 234.3,140.3 230.8,143.1 226.0,143.1 228.1,148.6 230.1,155.4 232.2,162.3 232.9,167.8 236.3,174.9"/>
<polyline points="230.8,143.1 234.9,146.5 241.8,146.9 245.9,146.5"/>
<polyline points="234.3,122.5 240.4,128.0 244.6,134.8"/>
</g>
<g clip-path="url(#c26)">
<polyline points="307.2,240.5 312.0,244.0 317.5,249.5 323.0,254.9 329.1,259.1 330.5,261.1 327.1,263.2 323.7,259.8 319.5,254.9 314.0,248.8 309.2,244.0 307.2,240.5"/>
<polyline points="309.2,242.3 319.5,252.9"/>
</g>
<g clip-path="url(#c28)">
<polyline points="255.0,194.0 255.7,188.5 259.1,184.3 265.3,180.9 266.7,174.7 270.1,167.9 272.2,159.6 275.6,154.1 280.4,154.1 285.9,156.9 288.7,160.3 294.8,164.4 300.3,168.5 305.1,170.6 307.9,173.4 309.3,180.2 311.3,184.3 309.3,189.8 308.6,196.7 309.9,202.2 314.1,206.3 319.6,211.8 325.1,217.3 331.9,226.9"/>
<polyline points="288.7,161.0 285.9,166.5 282.5,172.0 283.2,174.7 289.3,178.2 296.2,181.6 300.3,183.7 303.1,182.3 304.5,179.5 302.4,176.1 299.0,172.7 296.2,168.5 294.1,164.4 291.4,161.7 288.7,161.0"/>
<polyline points="275.6,166.5 273.5,169.2 274.2,172.7 277.0,176.8 279.0,181.6 277.0,185.7 276.3,191.2 277.7,196.7 279.0,202.2 277.7,204.9 278.4,209.1 281.1,210.4 279.7,204.9 281.1,202.2 284.5,204.3 287.3,207.7 288.0,205.6 285.9,200.8 284.5,195.3 283.2,188.5 283.2,183.0 281.8,177.5 279.7,172.0 277.7,167.2 275.6,166.5"/>
<polyline points="279.0,209.1 282.5,213.9 286.6,217.3 288.7,218.0 288.0,215.9 284.5,213.2 281.1,209.8 279.0,209.1"/>
<polyline points="301.0,201.5 304.5,204.9 307.9,209.1 312.7,210.4 316.8,212.5 319.6,215.9 323.7,221.4 329.2,226.9 331.9,229.9"/>
<polyline points="315.4,213.5 319.3,217.0 317.1,215.7"/>
<polyline points="301.0,202.9 305.8,208.4 311.3,214.6 316.8,220.1 320.9,225.5 323.7,229.9"/>
</g>
</g>
<!-- DHMZ box -->
<rect x="516.5" y="51" width="102" height="40.9" fill="#fff" stroke="#000" stroke-width="1"/>
<text x="529.3" y="78.9" style="font-size:20.2px;fill:#1e3cff;stroke:#1e3cff;stroke-width:0.35;">©</text>
<text x="547.3" y="78.9" style="font-size:20.4px;fill:#1e3cff;stroke:#1e3cff;stroke-width:0.3;" textLength="58.6" lengthAdjust="spacingAndGlyphs">DHMZ</text>
<!-- legend box -->
<rect x="120" y="465.8" width="135.2" height="64.2" fill="#fff" stroke="#000" stroke-width="2"/>
<text x="148.0" y="483.2" class="lg" textLength="65.9" lengthAdjust="spacingAndGlyphs">Temperatura</text>
<text x="220.2" y="483.2" class="lg" textLength="28.0" lengthAdjust="spacingAndGlyphs">zraka</text>
<text x="172.2" y="496.6" class="lg" textLength="13.5" lengthAdjust="spacingAndGlyphs">na</text>
<text x="190.6" y="496.6" class="lg" textLength="16.1" lengthAdjust="spacingAndGlyphs">2m</text>
<text x="213.3" y="496.6" class="lg" textLength="18.3" lengthAdjust="spacingAndGlyphs">(st.</text>
<text x="237.1" y="496.6" class="lg" textLength="11.1" lengthAdjust="spacingAndGlyphs">C)</text>
<text x="138.3" y="510.6" class="lg" textLength="24.7" lengthAdjust="spacingAndGlyphs">start</text>
<text x="167.9" y="510.6" class="lg" textLength="79.2" lengthAdjust="spacingAndGlyphs">00z19mar2011</text>
<text x="127.9" y="523.6" class="lg" textLength="33.4" lengthAdjust="spacingAndGlyphs">termin</text>
<text x="166.8" y="523.6" class="lg" textLength="80.3" lengthAdjust="spacingAndGlyphs">09Z19MAR2011</text>
<!-- frame -->
<rect x="120" y="51" width="499" height="479" fill="none" stroke="#000" stroke-width="2"/>
<line x1="136.5" y1="531" x2="136.5" y2="535" stroke="#000" stroke-width="1" shape-rendering="crispEdges"/>
<text x="128.8" y="544.5" class="tk" textLength="16.6" lengthAdjust="spacingAndGlyphs">12E</text>
<line x1="196.5" y1="531" x2="196.5" y2="535" stroke="#000" stroke-width="1" shape-rendering="crispEdges"/>
<text x="189.1" y="544.5" class="tk" textLength="16.6" lengthAdjust="spacingAndGlyphs">13E</text>
<line x1="257.5" y1="531" x2="257.5" y2="535" stroke="#000" stroke-width="1" shape-rendering="crispEdges"/>
<text x="249.4" y="544.5" class="tk" textLength="16.6" lengthAdjust="spacingAndGlyphs">14E</text>
<line x1="317.5" y1="531" x2="317.5" y2="535" stroke="#000" stroke-width="1" shape-rendering="crispEdges"/>
<text x="309.6" y="544.5" class="tk" textLength="16.6" lengthAdjust="spacingAndGlyphs">15E</text>
<line x1="377.5" y1="531" x2="377.5" y2="535" stroke="#000" stroke-width="1" shape-rendering="crispEdges"/>
<text x="369.9" y="544.5" class="tk" textLength="16.6" lengthAdjust="spacingAndGlyphs">16E</text>
<line x1="438.5" y1="531" x2="438.5" y2="535" stroke="#000" stroke-width="1" shape-rendering="crispEdges"/>
<text x="430.2" y="544.5" class="tk" textLength="16.6" lengthAdjust="spacingAndGlyphs">17E</text>
<line x1="498.5" y1="531" x2="498.5" y2="535" stroke="#000" stroke-width="1" shape-rendering="crispEdges"/>
<text x="490.5" y="544.5" class="tk" textLength="16.6" lengthAdjust="spacingAndGlyphs">18E</text>
<line x1="558.5" y1="531" x2="558.5" y2="535" stroke="#000" stroke-width="1" shape-rendering="crispEdges"/>
<text x="550.8" y="544.5" class="tk" textLength="16.6" lengthAdjust="spacingAndGlyphs">19E</text>
<line x1="619.5" y1="531" x2="619.5" y2="535" stroke="#000" stroke-width="1" shape-rendering="crispEdges"/>
<text x="611.1" y="544.5" class="tk" textLength="16.6" lengthAdjust="spacingAndGlyphs">20E</text>
<line x1="116" y1="106.5" x2="119" y2="106.5" stroke="#000" stroke-width="1" shape-rendering="crispEdges"/>
<text x="96.6" y="110.3" class="tk" textLength="18.4" lengthAdjust="spacingAndGlyphs">46N</text>
<line x1="116" y1="180.5" x2="119" y2="180.5" stroke="#000" stroke-width="1" shape-rendering="crispEdges"/>
<text x="96.6" y="184.0" class="tk" textLength="18.4" lengthAdjust="spacingAndGlyphs">45N</text>
<line x1="116" y1="254.5" x2="119" y2="254.5" stroke="#000" stroke-width="1" shape-rendering="crispEdges"/>
<text x="96.6" y="257.7" class="tk" textLength="18.4" lengthAdjust="spacingAndGlyphs">44N</text>
<line x1="116" y1="327.5" x2="119" y2="327.5" stroke="#000" stroke-width="1" shape-rendering="crispEdges"/>
<text x="96.6" y="331.4" class="tk" textLength="18.4" lengthAdjust="spacingAndGlyphs">43N</text>
<line x1="116" y1="401.5" x2="119" y2="401.5" stroke="#000" stroke-width="1" shape-rendering="crispEdges"/>
<text x="96.6" y="405.1" class="tk" textLength="18.4" lengthAdjust="spacingAndGlyphs">42N</text>
<line x1="116" y1="475.5" x2="119" y2="475.5" stroke="#000" stroke-width="1" shape-rendering="crispEdges"/>
<text x="96.6" y="478.8" class="tk" textLength="18.4" lengthAdjust="spacingAndGlyphs">41N</text>
<!-- title -->
<g class="ttl thin">
<text x="170.6" y="40.2" textLength="97.7" lengthAdjust="spacingAndGlyphs">Temperatura</text>
<text x="278.4" y="40.2" textLength="41.2" lengthAdjust="spacingAndGlyphs">zraka</text>
<text x="329.5" y="40.2" textLength="20.4" lengthAdjust="spacingAndGlyphs">na</text>
<text x="360.0" y="40.2" textLength="21" lengthAdjust="spacingAndGlyphs">2m</text>
<text x="393.6" y="40.2" textLength="7.8" lengthAdjust="spacingAndGlyphs">u</text>
<text x="411.0" y="40.2" textLength="17" lengthAdjust="spacingAndGlyphs">09</text>
<text x="439.8" y="40.2" textLength="28.8" lengthAdjust="spacingAndGlyphs">UTC</text>
<text x="481.2" y="40.2" textLength="87.2" lengthAdjust="spacingAndGlyphs">19MAR2011</text>
</g>
<!-- colorbar -->
<rect x="652" y="77.0" width="15" height="18.9" fill="#ffeedc"/>
<rect x="652" y="95.6" width="15" height="18.9" fill="#d8bfd8"/>
<rect x="652" y="114.2" width="15" height="18.9" fill="#dda0dd"/>
<rect x="652" y="132.9" width="15" height="18.9" fill="#ba55d3"/>
<rect x="652" y="151.5" width="15" height="18.9" fill="#8b008b"/>
<rect x="652" y="170.1" width="15" height="18.9" fill="#960000"/>
<rect x="652" y="188.7" width="15" height="18.9" fill="#c80000"/>
<rect x="652" y="207.3" width="15" height="18.9" fill="#ff0000"/>
<rect x="652" y="226.0" width="15" height="18.9" fill="#ff5a00"/>
<rect x="652" y="244.6" width="15" height="18.9" fill="#f08228"/>
<rect x="652" y="263.2" width="15" height="18.9" fill="#e6af2d"/>
<rect x="652" y="281.8" width="15" height="18.9" fill="#e6dc32"/>
<rect x="652" y="300.4" width="15" height="18.9" fill="#f5f064"/>
<rect x="652" y="319.1" width="15" height="18.9" fill="#dcf5a0"/>
<rect x="652" y="337.7" width="15" height="18.9" fill="#a0e632"/>
<rect x="652" y="356.3" width="15" height="18.9" fill="#00dc00"/>
<rect x="652" y="374.9" width="15" height="18.9" fill="#00b400"/>
<rect x="652" y="393.5" width="15" height="18.9" fill="#007800"/>
<rect x="652" y="412.2" width="15" height="18.9" fill="#1e3cff"/>
<rect x="652" y="430.8" width="15" height="18.9" fill="#00a0e6"/>
<rect x="652" y="449.4" width="15" height="18.9" fill="#b0e0e6"/>
<rect x="652" y="468.0" width="15" height="18.9" fill="#f0ffff"/>
<text x="669.6" y="81.4" class="cbl" textLength="15.4" lengthAdjust="spacingAndGlyphs">29</text>
<text x="669.6" y="100.0" class="cbl" textLength="15.4" lengthAdjust="spacingAndGlyphs">27</text>
<text x="669.6" y="118.6" class="cbl" textLength="15.4" lengthAdjust="spacingAndGlyphs">25</text>
<text x="669.6" y="137.3" class="cbl" textLength="15.4" lengthAdjust="spacingAndGlyphs">23</text>
<text x="669.6" y="155.9" class="cbl" textLength="15.4" lengthAdjust="spacingAndGlyphs">21</text>
<text x="669.6" y="174.5" class="cbl" textLength="15.4" lengthAdjust="spacingAndGlyphs">19</text>
<text x="669.6" y="193.1" class="cbl" textLength="15.4" lengthAdjust="spacingAndGlyphs">17</text>
<text x="669.6" y="211.7" class="cbl" textLength="15.4" lengthAdjust="spacingAndGlyphs">15</text>
<text x="669.6" y="230.4" class="cbl" textLength="15.4" lengthAdjust="spacingAndGlyphs">13</text>
<text x="669.6" y="249.0" class="cbl" textLength="15.4" lengthAdjust="spacingAndGlyphs">11</text>
<text x="669.6" y="267.6" class="cbl" textLength="7.7" lengthAdjust="spacingAndGlyphs">9</text>
<text x="669.6" y="286.2" class="cbl" textLength="7.7" lengthAdjust="spacingAndGlyphs">7</text>
<text x="669.6" y="304.8" class="cbl" textLength="7.7" lengthAdjust="spacingAndGlyphs">5</text>
<text x="669.6" y="323.5" class="cbl" textLength="7.7" lengthAdjust="spacingAndGlyphs">3</text>
<text x="669.6" y="342.1" class="cbl" textLength="7.7" lengthAdjust="spacingAndGlyphs">1</text>
<text x="669.6" y="360.7" class="cbl" textLength="17.0" lengthAdjust="spacingAndGlyphs">−1</text>
<text x="669.6" y="379.3" class="cbl" textLength="17.0" lengthAdjust="spacingAndGlyphs">−3</text>
<text x="669.6" y="397.9" class="cbl" textLength="17.0" lengthAdjust="spacingAndGlyphs">−5</text>
<text x="669.6" y="416.6" class="cbl" textLength="17.0" lengthAdjust="spacingAndGlyphs">−7</text>
<text x="669.6" y="435.2" class="cbl" textLength="17.0" lengthAdjust="spacingAndGlyphs">−9</text>
<text x="669.6" y="453.8" class="cbl" textLength="24.7" lengthAdjust="spacingAndGlyphs">−11</text>
<text x="669.6" y="472.4" class="cbl" textLength="24.7" lengthAdjust="spacingAndGlyphs">−13</text>
<text x="669.6" y="491.0" class="cbl" textLength="24.7" lengthAdjust="spacingAndGlyphs">−15</text>
<text x="669.6" y="509.7" class="cbl" textLength="24.7" lengthAdjust="spacingAndGlyphs">−17</text>
<text x="664" y="528.3" style="font-size:9.8px;" textLength="36" lengthAdjust="spacingAndGlyphs">(st. C)</text>
</svg>
</body></html>
